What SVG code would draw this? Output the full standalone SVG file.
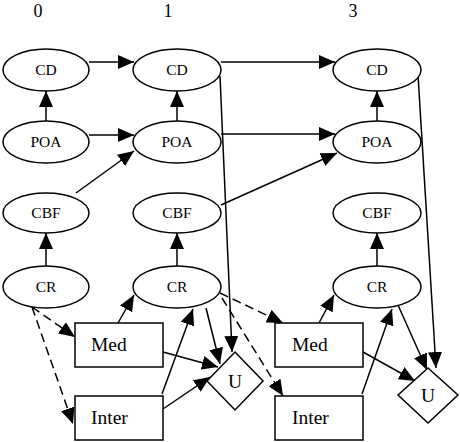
<svg xmlns="http://www.w3.org/2000/svg" width="460" height="442" viewBox="0 0 460 442">
<defs>
<style>
.n{fill:#fff;stroke:#000;stroke-width:1.5}
.c{fill:none;stroke:#000;stroke-width:1.5;marker-end:url(#a)}
.d{fill:none;stroke:#000;stroke-width:1.5;stroke-dasharray:9 5;marker-end:url(#a)}
</style>
<marker id="a" markerUnits="userSpaceOnUse" markerWidth="16" markerHeight="14" refX="16" refY="7" orient="auto">
<path d="M0,0 L16,7 L0,14 z" fill="#000"/>
</marker>
</defs>
<rect width="460" height="442" fill="#fff"/>
<g id="headers" font-family="Liberation Serif, DejaVu Serif, serif" font-size="18" text-anchor="middle" fill="#000">
<text x="38" y="17">0</text>
<text x="168" y="17">1</text>
<text x="353" y="17">3</text>
</g>
<g id="connectors">
<line class="c" x1="89" y1="62" x2="134" y2="62"/>
<line class="c" x1="46" y1="121" x2="46" y2="91"/>
<line class="c" x1="89" y1="135" x2="134" y2="135"/>
<line class="c" x1="76" y1="193" x2="134" y2="151"/>
<line class="c" x1="46" y1="267" x2="46" y2="233"/>
<line class="c" x1="177" y1="121" x2="177" y2="91"/>
<line class="c" x1="177" y1="267" x2="177" y2="233"/>
<line class="c" x1="221" y1="62" x2="335" y2="62"/>
<line class="c" x1="221" y1="134" x2="335" y2="134"/>
<line class="c" x1="221" y1="205" x2="337" y2="153"/>
<line class="c" x1="377" y1="121" x2="377" y2="91"/>
<line class="c" x1="377" y1="267" x2="377" y2="233"/>
<line class="c" x1="220" y1="76" x2="232" y2="352"/>
<line class="c" x1="418" y1="75" x2="436" y2="368"/>
<line class="d" x1="32" y1="307" x2="75" y2="337"/>
<line class="d" x1="32" y1="307" x2="73" y2="424"/>
<line class="d" x1="220" y1="293" x2="283" y2="323"/>
<line class="d" x1="222" y1="298" x2="283" y2="396"/>
<line class="c" x1="118" y1="323" x2="134" y2="295"/>
<line class="c" x1="162" y1="394" x2="193" y2="309"/>
<line class="c" x1="163" y1="352" x2="218" y2="367"/>
<line class="c" x1="163" y1="409" x2="210" y2="377"/>
<line class="c" x1="206" y1="308" x2="220" y2="364"/>
<line class="c" x1="319" y1="323" x2="334" y2="295"/>
<line class="c" x1="362" y1="394" x2="392" y2="309"/>
<line class="c" x1="363" y1="352" x2="415" y2="381"/>
<line class="c" x1="398" y1="305" x2="427" y2="370"/>
</g>
<g font-family="Liberation Serif, DejaVu Serif, serif" font-size="15.5" text-anchor="middle" fill="#000">
<g id="CD0"><ellipse class="n" cx="46" cy="70" rx="43" ry="21"/><text x="46" y="75">CD</text></g>
<g id="POA0"><ellipse class="n" cx="46" cy="142" rx="43" ry="21"/><text x="46" y="147">POA</text></g>
<g id="CBF0"><ellipse class="n" cx="46" cy="213" rx="43" ry="20"/><text x="46" y="218">CBF</text></g>
<g id="CR0"><ellipse class="n" cx="46" cy="287" rx="43" ry="21"/><text x="46" y="292">CR</text></g>
<g id="CD1"><ellipse class="n" cx="177" cy="70" rx="44" ry="21"/><text x="177" y="75">CD</text></g>
<g id="POA1"><ellipse class="n" cx="177" cy="142" rx="44" ry="21"/><text x="177" y="147">POA</text></g>
<g id="CBF1"><ellipse class="n" cx="177" cy="213" rx="44" ry="20"/><text x="177" y="218">CBF</text></g>
<g id="CR1"><ellipse class="n" cx="177" cy="287" rx="44" ry="21"/><text x="177" y="292">CR</text></g>
<g id="CD3"><ellipse class="n" cx="377" cy="70" rx="44" ry="21"/><text x="377" y="75">CD</text></g>
<g id="POA3"><ellipse class="n" cx="377" cy="142" rx="44" ry="21"/><text x="377" y="147">POA</text></g>
<g id="CBF3"><ellipse class="n" cx="377" cy="213" rx="44" ry="20"/><text x="377" y="218">CBF</text></g>
<g id="CR3"><ellipse class="n" cx="377" cy="287" rx="44" ry="21"/><text x="377" y="292">CR</text></g>
</g>
<g font-family="Liberation Serif, DejaVu Serif, serif" font-size="19.5" fill="#000">
<g id="Med1"><rect class="n" x="75" y="323" width="88" height="44"/><text x="91" y="351">Med</text></g>
<g id="Inter1"><rect class="n" x="75" y="396" width="88" height="44"/><text x="91" y="424">Inter</text></g>
<g id="Med3"><rect class="n" x="275" y="323" width="88" height="44"/><text x="292" y="351">Med</text></g>
<g id="Inter3"><rect class="n" x="275" y="396" width="88" height="44"/><text x="292" y="424">Inter</text></g>
<g id="U1"><path class="n" d="M235,352 L263,381 L235,410 L207,381 z"/><text x="235" y="388" text-anchor="middle">U</text></g>
<g id="U3"><path class="n" d="M428,368 L458,395 L428,423 L398,395 z"/><text x="428" y="402" text-anchor="middle">U</text></g>
</g>
</svg>
